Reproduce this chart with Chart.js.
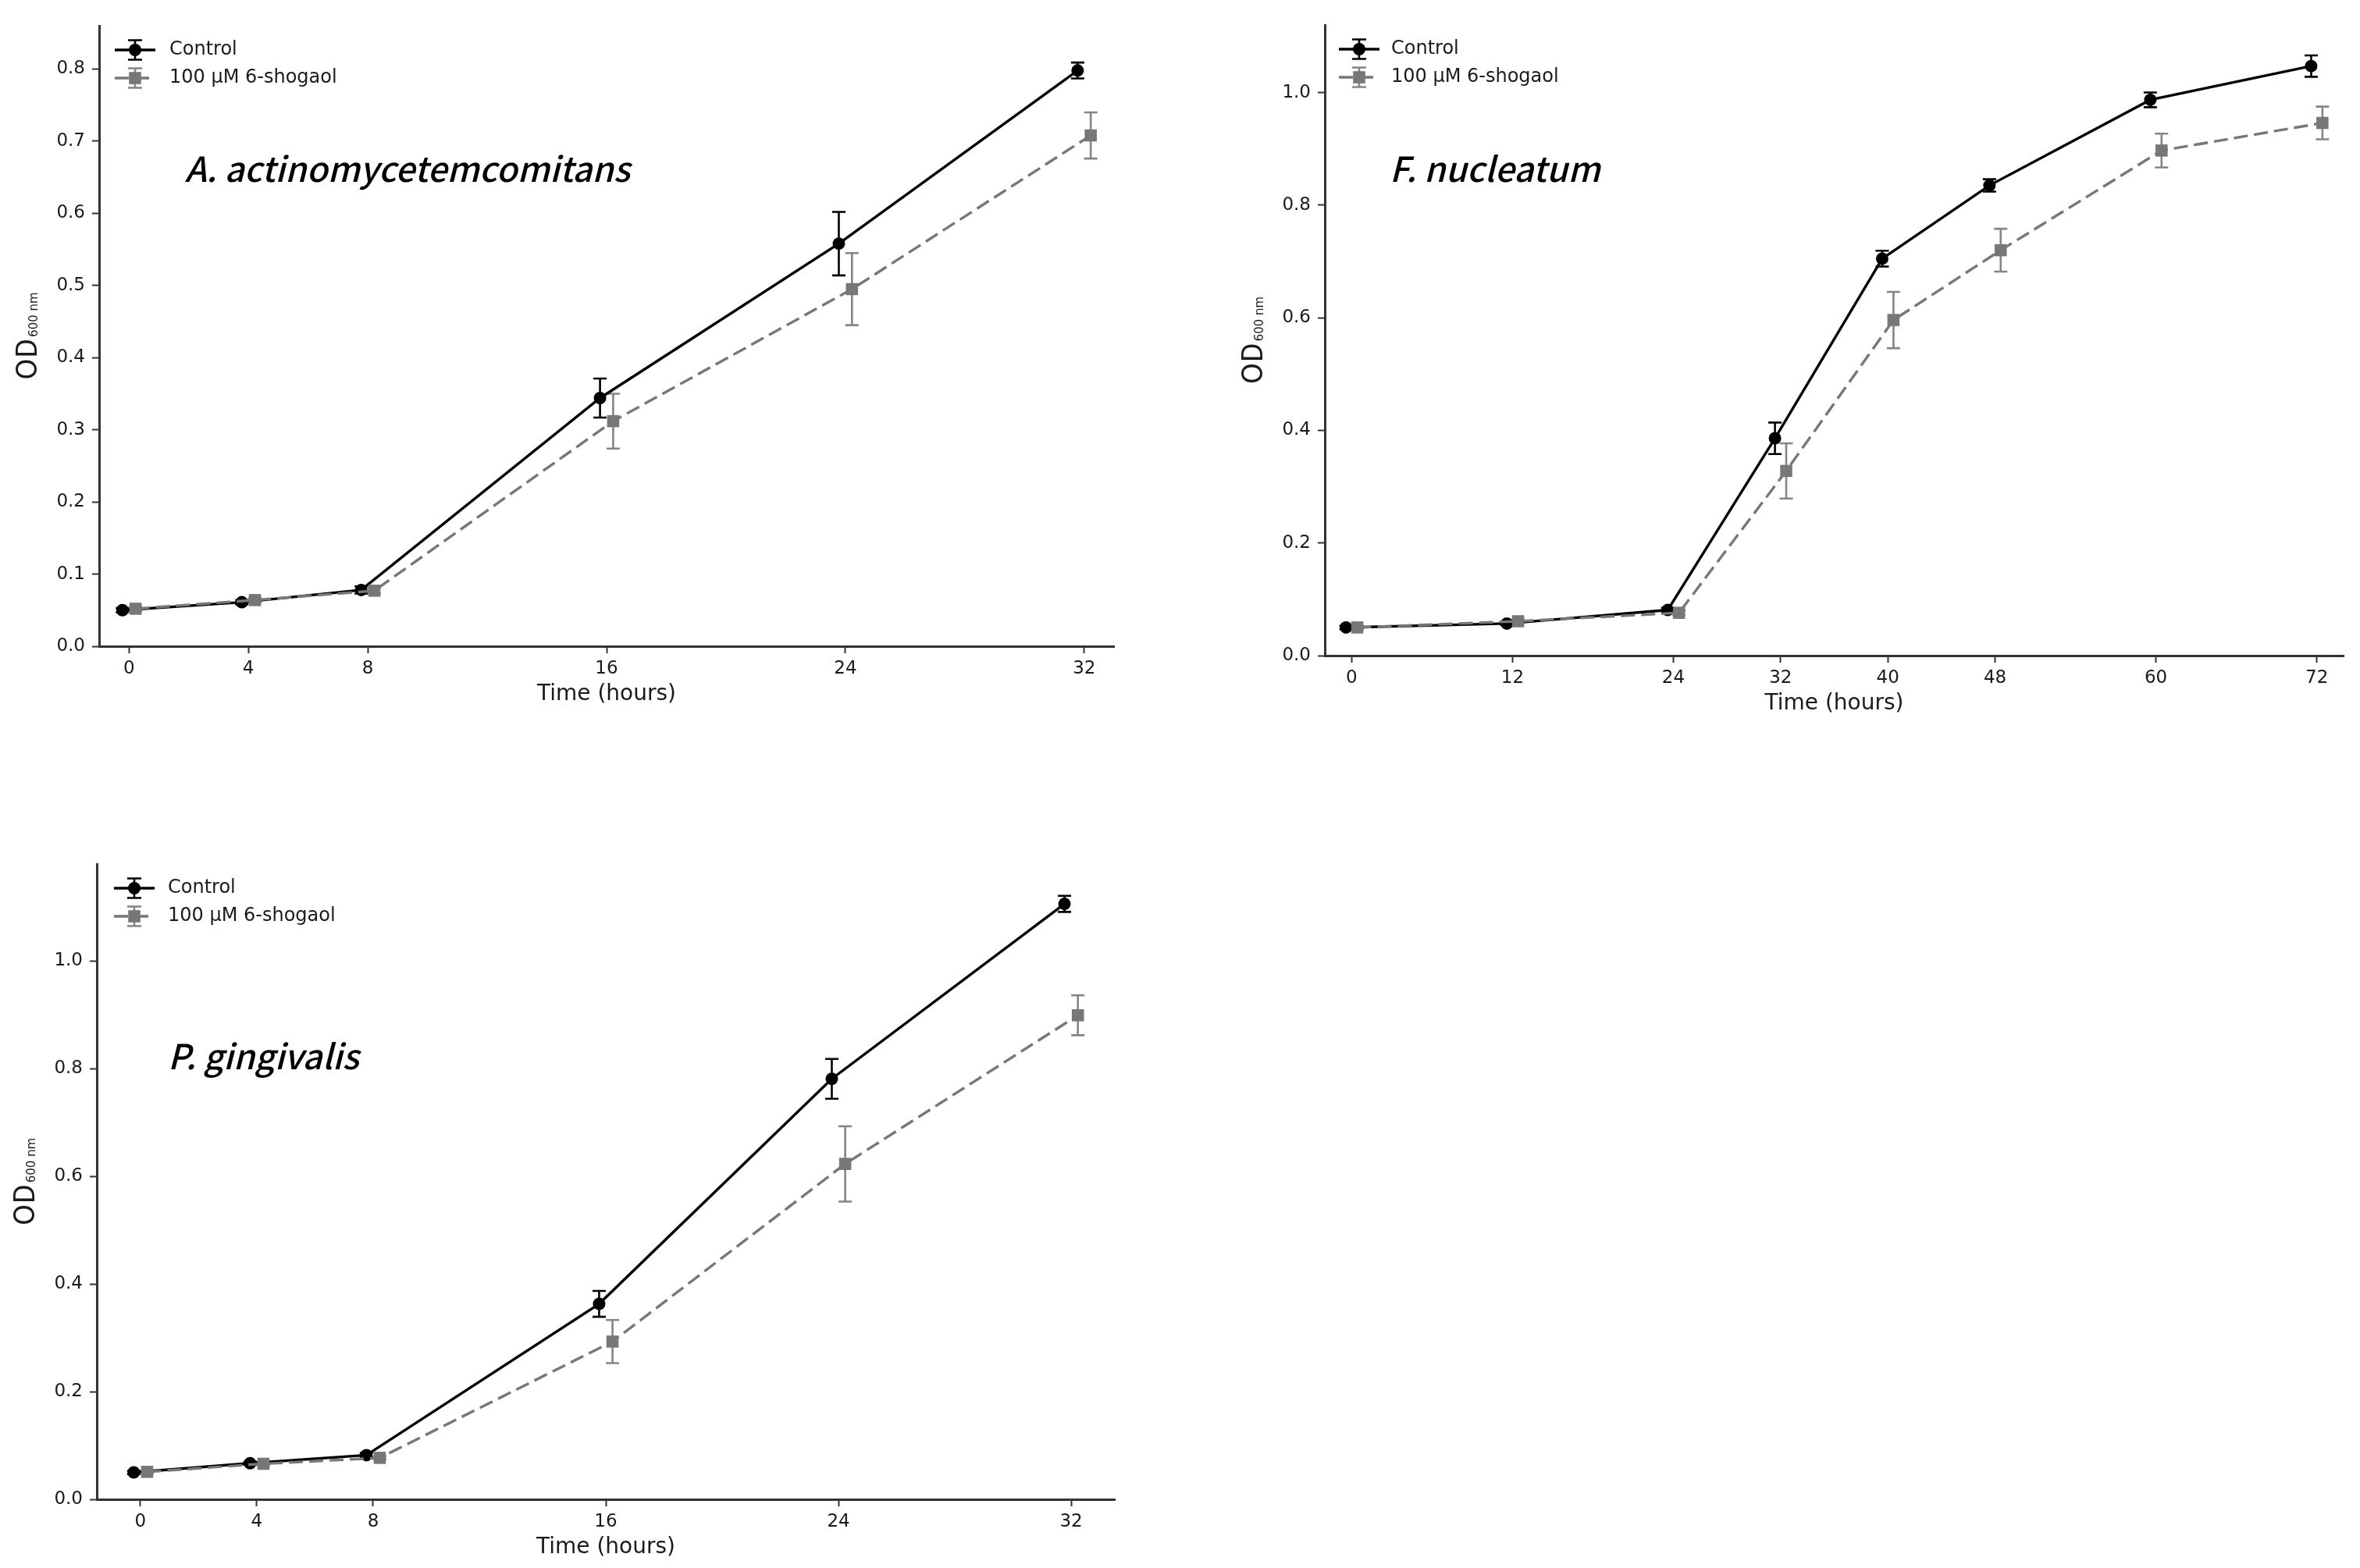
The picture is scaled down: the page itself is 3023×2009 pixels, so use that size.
<!DOCTYPE html>
<html>
<head>
<meta charset="utf-8">
<script src="https://cdn.jsdelivr.net/npm/chart.js@4.4.0/dist/chart.umd.min.js"></script>
<style>
  html, body { margin: 0; padding: 0; background: #ffffff; }
  #page { position: relative; width: 3023px; height: 2009px; background: #ffffff; overflow: hidden; }
  canvas { position: absolute; }
</style>
</head>
<body>
<div id="page">
  <canvas id="c1" width="1500" height="960" style="left:0px;top:0px;width:1500px;height:960px;"></canvas>
  <canvas id="c2" width="1473" height="960" style="left:1550px;top:0px;width:1473px;height:960px;"></canvas>
  <canvas id="c3" width="1500" height="1009" style="left:0px;top:1000px;width:1500px;height:1009px;"></canvas>
</div>
<script>
// ---------------- DATA ----------------
const seriesNames = ['Control', '100 \u00B5M 6-shogaol'];
const xAxisTitle = 'Time (hours)';
const yAxisMain = 'OD';
const yAxisSub = '600 nm';

// A. actinomycetemcomitans
const aaSpecies = 'A. actinomycetemcomitans';
const aaTime = [0, 4, 8, 16, 24, 32];
const aaControl = [0.050, 0.061, 0.078, 0.344, 0.558, 0.798];
const aaControlSD = [0.003, 0.003, 0.005, 0.027, 0.044, 0.011];
const aaShogaol = [0.052, 0.064, 0.077, 0.312, 0.495, 0.708];
const aaShogaolSD = [0.003, 0.003, 0.004, 0.038, 0.050, 0.032];
const aaXTicks = [0, 4, 8, 16, 24, 32];
const aaYTicks = [0.0, 0.1, 0.2, 0.3, 0.4, 0.5, 0.6, 0.7, 0.8];

// F. nucleatum
const fnSpecies = 'F. nucleatum';
const fnTime = [0, 12, 24, 32, 40, 48, 60, 72];
const fnControl = [0.050, 0.057, 0.081, 0.386, 0.705, 0.835, 0.987, 1.047];
const fnControlSD = [0.003, 0.003, 0.004, 0.028, 0.014, 0.011, 0.013, 0.019];
const fnShogaol = [0.050, 0.061, 0.076, 0.328, 0.596, 0.720, 0.897, 0.946];
const fnShogaolSD = [0.003, 0.003, 0.004, 0.049, 0.050, 0.038, 0.030, 0.029];
const fnXTicks = [0, 12, 24, 32, 40, 48, 60, 72];
const fnYTicks = [0.0, 0.2, 0.4, 0.6, 0.8, 1.0];

// P. gingivalis
const pgSpecies = 'P. gingivalis';
const pgTime = [0, 4, 8, 16, 24, 32];
const pgControl = [0.050, 0.067, 0.082, 0.363, 0.781, 1.106];
const pgControlSD = [0.003, 0.003, 0.004, 0.024, 0.037, 0.015];
const pgShogaol = [0.051, 0.066, 0.077, 0.293, 0.623, 0.899];
const pgShogaolSD = [0.003, 0.003, 0.003, 0.040, 0.070, 0.037];
const pgXTicks = [0, 4, 8, 16, 24, 32];
const pgYTicks = [0.0, 0.2, 0.4, 0.6, 0.8, 1.0];

// ---------------- STYLE ----------------
const CONTROL_COLOR = '#000000';
const SHOGAOL_COLOR = '#777777';
const SHOGAOL_ERR_COLOR = '#858585';
const AXIS_COLOR = '#333333';
const TEXT_COLOR = '#1a1a1a';
const TICK_FONT = { family: 'DejaVu Sans', size: 23 };
const CAP = 8.5;
const LINE_W = 3.4;

Chart.defaults.font.family = 'DejaVu Sans';
Chart.defaults.color = TEXT_COLOR;

// error bars plugin
const errorBarPlugin = {
  id: 'errorBars',
  beforeDatasetsDraw(chart) {
    const ctx = chart.ctx;
    const ys = chart.scales.y;
    chart.data.datasets.forEach((ds, di) => {
      const meta = chart.getDatasetMeta(di);
      ctx.save();
      ctx.strokeStyle = ds.errColor;
      ctx.lineWidth = 2.6;
      ctx.setLineDash([]);
      meta.data.forEach((pt, i) => {
        const v = ds.data[i].y, e = ds.sd[i];
        const yt = ys.getPixelForValue(v + e);
        const yb = ys.getPixelForValue(v - e);
        const x = pt.x;
        ctx.beginPath();
        ctx.moveTo(x, yt); ctx.lineTo(x, yb);
        ctx.moveTo(x - CAP, yt); ctx.lineTo(x + CAP, yt);
        ctx.moveTo(x - CAP, yb); ctx.lineTo(x + CAP, yb);
        ctx.stroke();
      });
      ctx.restore();
    });
  }
};

function drawMarker(ctx, style, x, y, color) {
  ctx.fillStyle = color;
  ctx.beginPath();
  if (style === 'circle') {
    ctx.arc(x, y, 8, 0, Math.PI * 2);
  } else {
    ctx.rect(x - 7.8, y - 7.8, 15.6, 15.6);
  }
  ctx.fill();
}

// decorations: y title with subscript, species label, legend
const decorPlugin = {
  id: 'decor',
  afterDraw(chart, args, opts) {
    const ctx = chart.ctx;
    const a = chart.chartArea;
    // y axis title
    ctx.save();
    const cx = a.left - opts.yTitleDx;
    const cy = (a.top + a.bottom) / 2;
    ctx.translate(cx, cy);
    ctx.rotate(-Math.PI / 2);
    const mainFont = '37px "Noto Sans CJK JP"';
    const subFont = '15px "DejaVu Sans"';
    ctx.font = mainFont;
    const wMain = ctx.measureText(yAxisMain).width;
    ctx.font = subFont;
    const wSub = ctx.measureText(yAxisSub).width;
    const total = wMain + 2 + wSub;
    ctx.fillStyle = TEXT_COLOR;
    ctx.textBaseline = 'alphabetic';
    ctx.textAlign = 'left';
    ctx.font = mainFont;
    ctx.fillText(yAxisMain, -total / 2, 13);
    ctx.font = subFont;
    ctx.fillText(yAxisSub, -total / 2 + wMain + 2, 14);
    ctx.restore();

    // species label
    ctx.save();
    ctx.font = 'italic 500 44px "Noto Sans CJK JP"';
    ctx.fillStyle = '#000000';
    ctx.textAlign = 'left';
    ctx.textBaseline = 'alphabetic';
    ctx.fillText(opts.species, a.left + opts.spDx, a.top + opts.spDy);
    ctx.restore();

    // legend
    ctx.save();
    const lx = a.left + opts.lgDx;
    const hw = 52;
    const rows = [a.top + opts.lgDy, a.top + opts.lgDy + opts.lgGap];
    chart.data.datasets.forEach((ds, i) => {
      const y = rows[i];
      const mx = lx + hw / 2;
      ctx.strokeStyle = ds.errColor;
      ctx.lineWidth = 2.6;
      ctx.setLineDash([]);
      ctx.beginPath();
      ctx.moveTo(mx, y - 12.5); ctx.lineTo(mx, y + 12.5);
      ctx.moveTo(mx - 9, y - 12.5); ctx.lineTo(mx + 9, y - 12.5);
      ctx.moveTo(mx - 9, y + 12.5); ctx.lineTo(mx + 9, y + 12.5);
      ctx.stroke();
      ctx.strokeStyle = ds.borderColor;
      ctx.lineWidth = LINE_W;
      ctx.setLineDash(ds.borderDash || []);
      ctx.beginPath();
      ctx.moveTo(lx, y); ctx.lineTo(lx + hw, y);
      ctx.stroke();
      ctx.setLineDash([]);
      drawMarker(ctx, ds.pointStyle, mx, y, ds.backgroundColor);
      ctx.font = '24px "DejaVu Sans"';
      ctx.fillStyle = TEXT_COLOR;
      ctx.textAlign = 'left';
      ctx.textBaseline = 'middle';
      ctx.fillText(seriesNames[i], a.left + opts.lgTextDx, y);
    });
    ctx.restore();
  }
};

function makeChart(id, cfg) {
  const ctrlData = cfg.time.map((t, i) => ({ x: t - cfg.dodge, y: cfg.ctrl[i] }));
  const shogData = cfg.time.map((t, i) => ({ x: t + cfg.dodge, y: cfg.shog[i] }));
  return new Chart(document.getElementById(id), {
    type: 'line',
    data: {
      datasets: [
        {
          label: seriesNames[0], data: ctrlData, sd: cfg.ctrlSD, errColor: CONTROL_COLOR,
          borderColor: CONTROL_COLOR, backgroundColor: CONTROL_COLOR, borderWidth: LINE_W,
          pointStyle: 'circle', pointRadius: 8, pointBorderWidth: 0, pointHoverRadius: 8,
          tension: 0, order: 1, fill: false
        },
        {
          label: seriesNames[1], data: shogData, sd: cfg.shogSD, errColor: SHOGAOL_ERR_COLOR,
          borderColor: SHOGAOL_COLOR, backgroundColor: SHOGAOL_COLOR, borderWidth: LINE_W,
          borderDash: [18, 8],
          pointStyle: 'rect', pointRadius: 11, pointBorderWidth: 0, pointHoverRadius: 11,
          tension: 0, order: 0, fill: false
        }
      ]
    },
    options: {
      responsive: false,
      animation: false,
      devicePixelRatio: 1,
      events: [],
      layout: { padding: { left: 0, top: cfg.padTop, right: cfg.padRight, bottom: 0 } },
      plugins: {
        legend: { display: false },
        tooltip: { enabled: false },
        decor: {
          species: cfg.species, spDx: cfg.spDx, spDy: cfg.spDy,
          lgDx: cfg.lgDx, lgDy: 31, lgGap: 36, lgTextDx: cfg.lgTextDx, yTitleDx: 93
        }
      },
      scales: {
        x: {
          type: 'linear', min: cfg.xMin, max: cfg.xMax,
          afterBuildTicks: s => { s.ticks = cfg.xTicks.map(v => ({ value: v })); },
          afterFit: s => { s.height = cfg.xH; },
          ticks: { font: TICK_FONT, color: TEXT_COLOR, padding: 6, maxRotation: 0, autoSkip: false,
                   callback: v => String(v) },
          grid: { drawOnChartArea: false, drawTicks: true, tickLength: 9, tickWidth: 2, tickColor: AXIS_COLOR },
          border: { display: true, color: AXIS_COLOR, width: 3 },
          title: { display: true, text: xAxisTitle, font: { family: 'DejaVu Sans', size: 28 }, color: TEXT_COLOR,
                   padding: { top: 0, bottom: cfg.xH - 62 - 16.8 } }
        },
        y: {
          type: 'linear', min: 0, max: cfg.yMax,
          afterBuildTicks: s => { s.ticks = cfg.yTicks.map(v => ({ value: v })); },
          afterFit: s => { s.width = cfg.yW; },
          ticks: { font: TICK_FONT, color: TEXT_COLOR, padding: 9, autoSkip: false,
                   callback: v => Number(v).toFixed(1) },
          grid: { drawOnChartArea: false, drawTicks: true, tickLength: 9, tickWidth: 2, tickColor: AXIS_COLOR },
          border: { display: true, color: AXIS_COLOR, width: 3 },
          title: { display: false }
        }
      }
    },
    plugins: [errorBarPlugin, decorPlugin]
  });
}

makeChart('c1', {
  time: aaTime, ctrl: aaControl, ctrlSD: aaControlSD, shog: aaShogaol, shogSD: aaShogaolSD,
  xTicks: aaXTicks, yTicks: aaYTicks, xMin: -1, xMax: 33, yMax: 0.86, dodge: 0.22,
  padTop: 33, padRight: 73, yW: 127, xH: 132,
  species: aaSpecies, spDx: 110, spDy: 200, lgDx: 20, lgTextDx: 90
});
makeChart('c2', {
  time: fnTime, ctrl: fnControl, ctrlSD: fnControlSD, shog: fnShogaol, shogSD: fnShogaolSD,
  xTicks: fnXTicks, yTicks: fnYTicks, xMin: -2, xMax: 74, yMax: 1.12, dodge: 0.42,
  padTop: 32, padRight: 21, yW: 147, xH: 120,
  species: fnSpecies, spDx: 83, spDy: 201, lgDx: 18, lgTextDx: 85
});
makeChart('c3', {
  time: pgTime, ctrl: pgControl, ctrlSD: pgControlSD, shog: pgShogaol, shogSD: pgShogaolSD,
  xTicks: pgXTicks, yTicks: pgYTicks, xMin: -1.5, xMax: 33.5, yMax: 1.18, dodge: 0.23,
  padTop: 107, padRight: 72, yW: 124, xH: 88,
  species: pgSpecies, spDx: 91, spDy: 263, lgDx: 22, lgTextDx: 91
});
</script>
</body>
</html>
